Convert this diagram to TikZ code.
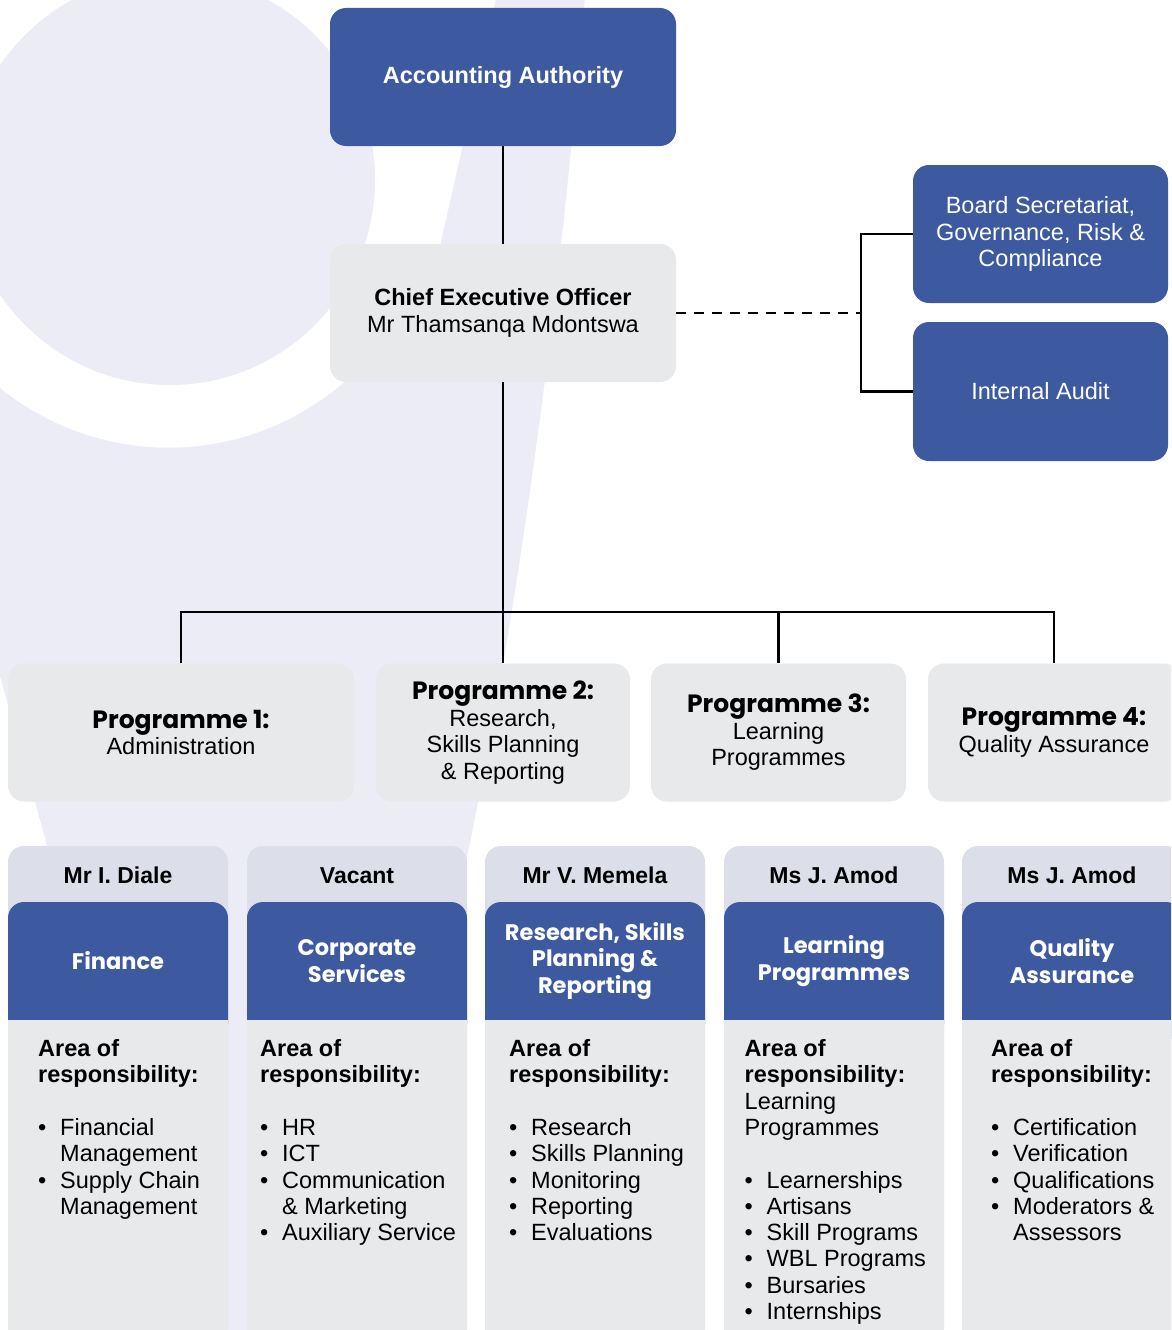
\documentclass[tikz,border=0pt]{standalone}
\usepackage{fontspec}
\setmainfont{Liberation Sans}
\newfontfamily\pop{Poppins}
\definecolor{qblue}{HTML}{3D5AA1}
\definecolor{qgray}{HTML}{E8E9EB}
\definecolor{qhead}{HTML}{DCDEEA}
\definecolor{qbg}{HTML}{ECECF6}
\newcommand\fsz[2]{\fontsize{#1pt}{#2pt}\selectfont}
\newcommand\ptitle[1]{{\pop\bfseries\fsz{25}{27}#1}}
\newcommand\bul{\makebox[22pt][l]{\textbullet}}
\newcommand\ind{\hspace*{22pt}}
\newcommand\bodytxt[1]{\parbox[t]{200pt}{\raggedright\fsz{23.5}{26.3}#1}}
\tikzset{
  bluebox/.style={fill=qblue, rounded corners=16pt, text=white, align=center, inner sep=0pt},
  graybox/.style={fill=qgray, rounded corners=16pt, text=black, align=center, inner sep=0pt},
  conn/.style={line width=2.4pt, black},
  dashconn/.style={conn, dash pattern=on 10pt off 8pt},
  namet/.style={anchor=base, inner sep=0pt, font=\bfseries\fsz{23}{26}},
  coltitle/.style={text=white, align=center, inner sep=0pt, font=\pop\bfseries\fsz{22.5}{26.5}},
  bodyt/.style={anchor=base west, inner sep=0pt}
}
\begin{document}
\begin{tikzpicture}[x=1pt,y=-1pt]
\useasboundingbox (0,0) rectangle (1171,1330);
\clip (0,0) rectangle (1171,1330);
\fill[white] (0,0) rectangle (1171,1330);
% background motif
\fill[qbg] (585,-5) .. controls (560,300) and (520,600) .. (467,857) -- (420,1345)
  -- (170,1345) -- (47,845) -- (0,676) -- (0,388)
  arc[start angle=129, end angle=33, radius=268] -- (430,290) -- (497,-5) -- cycle;
\fill[qbg] (170,180) circle[radius=205];

% top boxes
\node[bluebox, minimum width=346pt, minimum height=138pt, font=\bfseries\fsz{23.5}{27}] (aa) at (503,77) {Accounting Authority};
\node[graybox, minimum width=346pt, minimum height=138pt, font=\fsz{23.5}{27}] (ceo) at (503,313) {\textbf{Chief Executive Officer}\\Mr Thamsanqa Mdontswa};
\node[bluebox, minimum width=255pt, minimum height=138pt, font=\fsz{23.5}{26.5}] (board) at (1040.5,234) {Board Secretariat,\\Governance, Risk \&\\Compliance};
\node[bluebox, minimum width=255pt, minimum height=139pt, font=\fsz{23.5}{26.5}] (audit) at (1040.5,391.5) {Internal Audit};

% programme boxes
\node[graybox, minimum width=346pt, minimum height=138pt, font=\fsz{23.5}{26.5}] (p1) at (181,732.5) {\ptitle{Programme 1:}\\Administration};
\node[graybox, minimum width=254pt, minimum height=138pt, font=\fsz{23.5}{26.5}] (p2) at (503,732.5) {\ptitle{Programme 2:}\\Research,\\Skills Planning\\\& Reporting};
\node[graybox, minimum width=255pt, minimum height=138pt, font=\fsz{23.5}{26.5}] (p3) at (778.5,732.5) {\ptitle{Programme 3:}\\Learning\\Programmes};
\node[graybox, minimum width=252pt, minimum height=138pt, font=\fsz{23.5}{26.5}] (p4) at (1054,732.5) {\ptitle{Programme 4:}\\Quality Assurance};

% connectors
\coordinate (bus) at (503,612);
\coordinate (jn) at (861,313);
\draw[conn] (aa.south) -- (ceo.north);
\draw[conn] (ceo.south) -- (p2.north);
\draw[conn] (p1.north) -- (p1.north |- bus) -| (p4.north);
\draw[conn] (p3.north) -- (p3.north |- bus);
\draw[dashconn] (ceo.east) -- (jn);
\draw[conn] (board.west) -- (board.west -| jn) -- (audit.west -| jn) -- (audit.west);

% columns
\foreach \L in {8,247,485,724,962}{
  \fill[qhead, rounded corners=16pt] (\L,846) rectangle (\L+220,1345);
  \fill[qblue, rounded corners=16pt] (\L,902) rectangle (\L+220,1040);
  \fill[qgray] (\L,1020) rectangle (\L+220,1345);
}
\node[namet] (n1) at (118,883) {Mr I. Diale};
\node[namet] (n2) at (357,883) {Vacant};
\node[namet] (n3) at (595,883) {Mr V. Memela};
\node[namet] (n4) at (834,883) {Ms J. Amod};
\node[namet] (n5) at (1072,883) {Ms J. Amod};

\node[coltitle] (t1) at (118,961) {Finance};
\node[coltitle] (t2) at (357,961) {Corporate\\Services};
\node[coltitle] (t3) at (595,961) {Research, Skills\\Planning \&\\Reporting};
\node[coltitle] (t4) at (834,961) {Learning\\Programmes};
\node[coltitle] (t5) at (1072,961) {Quality\\Assurance};

\node[bodyt] (b1) at (38,1056.5) {\bodytxt{\textbf{Area of}\\\textbf{responsibility:}\\\mbox{}\\
\bul Financial\\\ind Management\\\bul Supply Chain\\\ind Management}};
\node[bodyt] (b2) at (260,1056.5) {\bodytxt{\textbf{Area of}\\\textbf{responsibility:}\\\mbox{}\\
\bul HR\\\bul ICT\\\bul Communication\\\ind\& Marketing\\\bul Auxiliary Service}};
\node[bodyt] (b3) at (509,1056.5) {\bodytxt{\textbf{Area of}\\\textbf{responsibility:}\\\mbox{}\\
\bul Research\\\bul Skills Planning\\\bul Monitoring\\\bul Reporting\\\bul Evaluations}};
\node[bodyt] (b4) at (744.5,1056.5) {\bodytxt{\textbf{Area of}\\\textbf{responsibility:}\\Learning\\Programmes\\\mbox{}\\
\bul Learnerships\\\bul Artisans\\\bul Skill Programs\\\bul WBL Programs\\\bul Bursaries\\\bul Internships}};
\node[bodyt] (b5) at (991,1056.5) {\bodytxt{\textbf{Area of}\\\textbf{responsibility:}\\\mbox{}\\
\bul Certification\\\bul Verification\\\bul Qualifications\\\bul Moderators \&\\\ind Assessors}};
\end{tikzpicture}
\end{document}
